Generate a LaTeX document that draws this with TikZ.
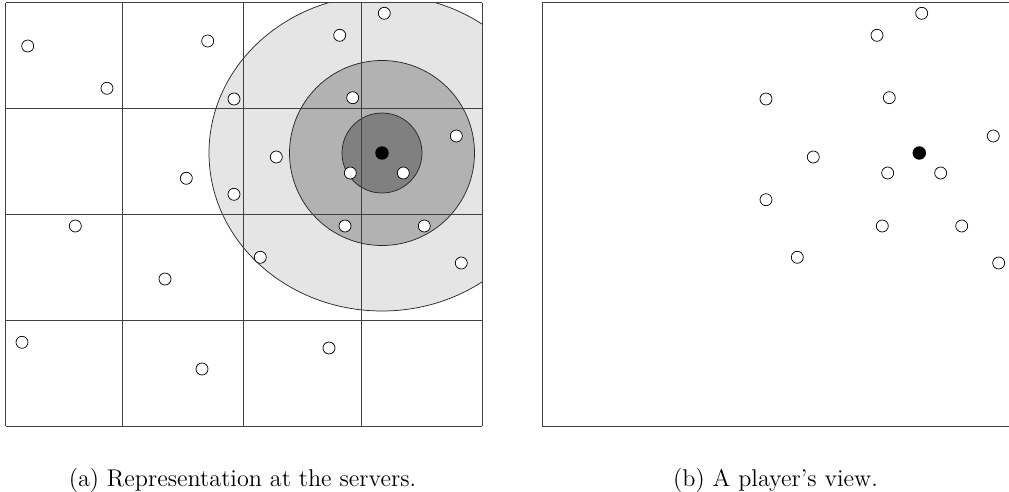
\documentclass[tikz,border=0pt]{standalone}
\usetikzlibrary{positioning}

\begin{document}
\begin{tikzpicture}[
    x=0.55pt, y=-0.55pt,
    player/.style={circle, draw=black, thin, fill=white, inner sep=0pt, minimum size=6.6pt},
    selfdot/.style={circle, fill=black, inner sep=0pt, minimum size=7.4pt},
    gridline/.style={draw=black!75, thin},
    ring/.style={draw=black!85, thin},
    subcap/.style={font=\fontsize{13.3}{16}\selectfont, anchor=base}
]
\useasboundingbox (0,0) rectangle (1009,492);

% (a) representation at the servers
\begin{scope}
  \clip (5.7,2.7) rectangle (482,426);
  \fill[gray!20] (382,153) ellipse [x radius=173, y radius=158];
  \fill[gray!60] (382,153) circle [radius=92.5];
  \fill[gray] (382,153) circle [radius=40];
  \draw[ring] (382,153) ellipse [x radius=173, y radius=158];
  \draw[ring] (382,153) circle [radius=92.5];
  \draw[ring] (382,153) circle [radius=40];
\end{scope}
\foreach \gx in {5.7,122.7,243.7,361,482}
  \draw[gridline] (\gx,2.7) -- (\gx,426);
\foreach \gy in {2.7,108.3,214.3,320.3,426}
  \draw[gridline] (5.7,\gy) -- (482,\gy);

\foreach \px/\py [count=\i] in {27.7/46, 107/88.3, 207.7/41, 234/99, 339.7/35.3,
    384.3/13.3, 352.7/97.7, 456.3/136, 276.3/157, 350.3/173, 403.3/173,
    186.3/178.3, 234/194.3, 75.3/226, 345/226, 424.3/226, 260.3/257.3,
    461.3/263, 165/279, 22/342.3, 329/348, 202/369}
  \node[player] (a\i) at (\px,\py) {};
\node[selfdot] (aself) at (382,153) {};

% (b) a player's view
\draw[gridline] (542.3,2.7) rectangle (1018,426);
\foreach \px/\py [count=\i] in {921.7/13.3, 877/35.3, 766/99, 889.3/97.7,
    993.3/136, 813.3/157, 887.7/173, 940.7/173, 766/199.7, 882.3/226,
    961.7/226, 797.3/257.3, 998.7/263}
  \node[player] (b\i) at (\px,\py) {};
\node[selfdot] (bself) at (919.3,153) {};

% captions
\node[subcap] (capa) at (242.5,486) {(a) Representation at the servers.};
\node[subcap] (capb) at (775.5,486) {(b) A player's view.};
\end{tikzpicture}
\end{document}
